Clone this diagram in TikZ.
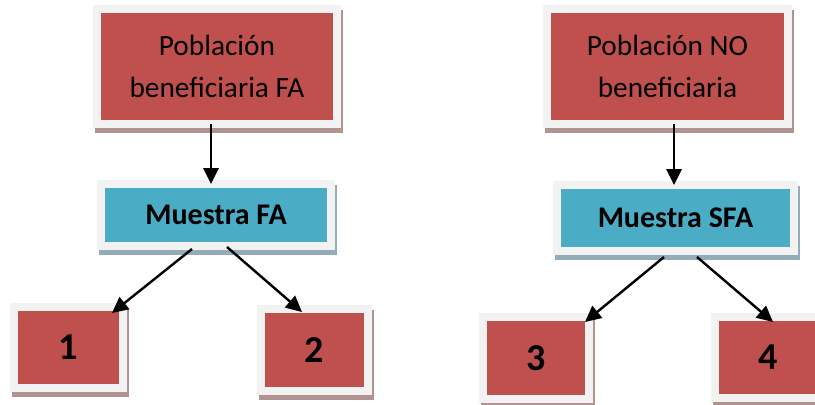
\documentclass[tikz,border=0pt]{standalone}
\usepackage{fontspec}
\setmainfont{Carlito}
\usetikzlibrary{shadows,arrows.meta}
\definecolor{rojoC}{HTML}{C0504D}
\definecolor{azulC}{HTML}{4BACC6}
\definecolor{marcoC}{HTML}{F2F2F2}
\definecolor{sombraR}{HTML}{B39292}
\definecolor{sombraA}{HTML}{93ADB8}
\begin{document}
\begin{tikzpicture}[x=0.75pt,y=-0.75pt,
  caja/.style={inner sep=0,outer sep=0,draw=marcoC,line width=6pt,align=center},
  poblacion/.style={caja,fill=rojoC,font=\fontsize{22}{31.5}\selectfont,
    drop shadow={shadow xshift=1.5pt,shadow yshift=-3.75pt,opacity=1,fill=sombraR,draw=sombraR,line width=6pt}},
  muestra/.style={caja,fill=azulC,font=\fontsize{22.5}{26}\bfseries\selectfont,
    drop shadow={shadow xshift=1.5pt,shadow yshift=-3.75pt,opacity=1,fill=sombraA,draw=sombraA,line width=6pt}},
  grupo/.style={poblacion,font=\fontsize{28.5}{30}\bfseries\selectfont},
  flecha/.style={line width=1.8pt,-{Triangle[length=12pt,width=11.5pt]}}]
\useasboundingbox(0,0)rectangle(815,404);
\clip(0,0)rectangle(815,404);
\node[poblacion,minimum width=180pt,minimum height=86.25pt](pobFA)at(217,66.5){Población\\beneficiaria FA};
\node[poblacion,minimum width=180.75pt,minimum height=86.25pt](pobNO)at(667.5,66.5){Población NO\\beneficiaria};
\node[muestra,minimum width=172.5pt,minimum height=46.5pt](muesFA)at(216,215){Muestra FA};
\node[muestra,minimum width=177.75pt,minimum height=49.5pt](muesSFA)at(675.5,218){Muestra SFA};
\node[grupo,minimum width=81.75pt,minimum height=60.75pt](g1)at(68.5,347.5){1};
\node[grupo,minimum width=80.25pt,minimum height=61.5pt](g2)at(314.5,350){2};
\node[grupo,minimum width=79.5pt,minimum height=61.5pt](g3)at(536,358){3};
\node[grupo,minimum width=79.5pt,minimum height=60.75pt](g4)at(768,357.5){4};
\draw[flecha]([xshift=-4.5pt]pobFA.south)--([xshift=-4.5pt]pobFA.south|-muesFA.north);
\draw[flecha]([xshift=4.9pt]pobNO.south)--([xshift=4.9pt]pobNO.south|-muesSFA.north);
\draw[flecha]([shift={(-24,3)}]muesFA.south)--([shift={(-11,6)}]g1.north east);
\draw[flecha]([shift={(11,1)}]muesFA.south)--([shift={(-12.5,3)}]g2.north);
\draw[flecha]([shift={(-11.5,6)}]muesSFA.south)--([shift={(-4,5)}]g3.north east);
\draw[flecha]([shift={(21.5,6)}]muesSFA.south)--([shift={(5,5)}]g4.north);
\end{tikzpicture}
\end{document}
